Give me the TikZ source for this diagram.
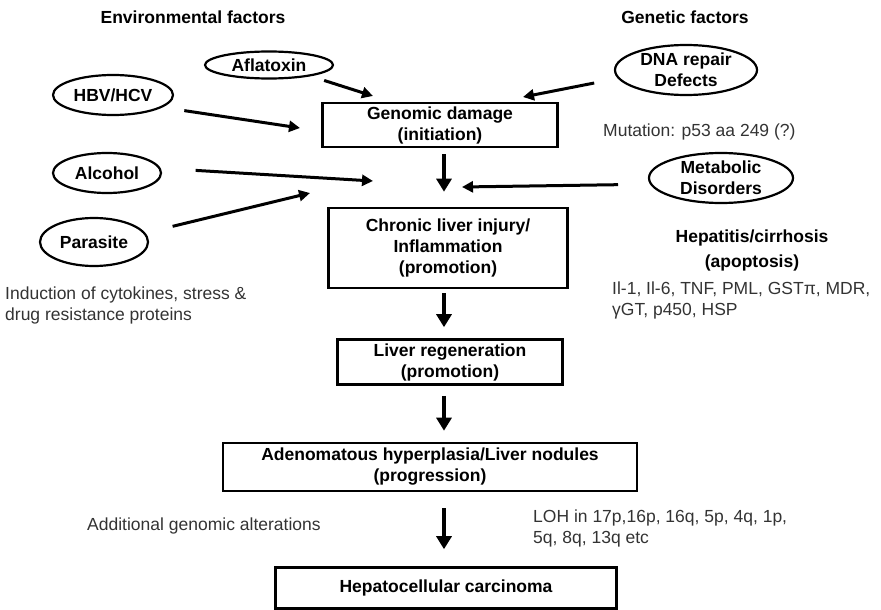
\documentclass[tikz,border=0pt]{standalone}
\usepackage{fontspec}
\setmainfont{Liberation Sans}
\usetikzlibrary{shapes.geometric}
\usetikzlibrary{arrows.meta}

\tikzset{
    stage/.style={draw, line width=2.6pt, align=center, font=\bfseries\fontsize{17.5}{21}\selectfont, inner sep=0pt},
    factor/.style={draw, ellipse, line width=2.2pt, align=center, font=\bfseries\fontsize{17.5}{21}\selectfont, inner sep=0pt},
    heading/.style={font=\bfseries\fontsize{17.5}{21}\selectfont, align=center},
    note/.style={font=\fontsize{17.5}{21}\selectfont, text=black!80, align=left, inner sep=0pt},
    sidearrow/.style={line width=3pt, -{Triangle[length=11pt, width=11pt]}},
    downarrow/.style={line width=4.5pt, -{Triangle[length=13pt, width=15pt]}}
}

\begin{document}
\begin{tikzpicture}[x=1pt, y=-1pt]
    \useasboundingbox (0,0) rectangle (881,610);

    % Headings
    \node[heading] (envtitle) at (193,17) {Environmental factors};
    \node[heading] (gentitle) at (685,17) {Genetic factors};

    % Risk factors
    \node[factor, minimum width=128pt, minimum height=27pt] (afla) at (269,65) {Aflatoxin};
    \node[factor, minimum width=120pt, minimum height=40pt] (hbv) at (113,95) {HBV/HCV};
    \node[factor, minimum width=108pt, minimum height=40pt] (alcohol) at (107,173) {Alcohol};
    \node[factor, minimum width=108pt, minimum height=48pt] (parasite) at (94,242) {Parasite};
    \node[factor, minimum width=142pt, minimum height=50pt] (dna) at (686,70) {DNA repair\\Defects};
    \node[factor, minimum width=144pt, minimum height=50pt] (meta) at (721,178) {Metabolic\\Disorders};

    % Stages
    \node[stage, minimum width=235pt, minimum height=44pt] (genomic) at (440,125) {Genomic damage\\(initiation)};
    \node[stage, minimum width=239pt, minimum height=80pt] (chronic) at (448,248) {Chronic liver injury/\\Inflammation\\(promotion)};
    \node[stage, minimum width=225pt, minimum height=45pt] (regen) at (450,362) {Liver regeneration\\(promotion)};
    \node[stage, minimum width=414pt, minimum height=48pt] (adeno) at (430,467) {Adenomatous hyperplasia/Liver nodules\\(progression)};
    \node[stage, minimum width=341pt, minimum height=41pt] (hcc) at (446,588) {Hepatocellular carcinoma};

    % Notes
    \node[note, anchor=west] (mutation) at (603,132) {Mutation: p53 aa 249 (?)};
    \node[heading, font=\bfseries\fontsize{17.5}{25}\selectfont] (hepatitis) at (752,250) {Hepatitis/cirrhosis\\(apoptosis)};
    \node[note, anchor=west] (markers) at (612,300) {Il-1, Il-6, TNF, PML, GSTπ, MDR,\\γGT, p450, HSP};
    \node[note, anchor=west] (induction) at (5,305) {Induction of cytokines, stress \&\\drug resistance proteins};
    \node[note, anchor=west] (additional) at (87,526) {Additional genomic alterations};
    \node[note, anchor=west] (loh) at (533,528) {LOH in 17p,16p, 16q, 5p, 4q, 1p,\\5q, 8q, 13q etc};

    % Arrow ends
    \coordinate (aflaend) at (373,96);
    \coordinate (hbvend) at (300,128);
    \coordinate (alcoholend) at (373,181);
    \coordinate (parasiteend) at (310,193);
    \coordinate (dnaend) at (523,97);
    \coordinate (metaend) at (462,187);
    \coordinate (spine) at (444,0);

    % Factor arrows
    \draw[sidearrow, shorten <=14pt] (afla.-15) -- (aflaend);
    \draw[sidearrow, shorten <=22pt] (hbv.-14) -- (hbvend);
    \draw[sidearrow, shorten <=35pt] (alcohol.5) -- (alcoholend);
    \draw[sidearrow, shorten <=28pt] (parasite.10) -- (parasiteend);
    \draw[sidearrow, shorten <=24pt] (dna.187) -- (dnaend);
    \draw[sidearrow, shorten <=32pt] (meta.185) -- (metaend);

    % Progression arrows
    \draw[downarrow, shorten <=6pt, shorten >=15pt] (genomic.south -| spine) -- (chronic.north -| spine);
    \draw[downarrow, shorten <=4pt, shorten >=11pt] (chronic.south -| spine) -- (regen.north -| spine);
    \draw[downarrow, shorten <=10pt, shorten >=11pt] (regen.south -| spine) -- (adeno.north -| spine);
    \draw[downarrow, shorten <=16pt, shorten >=17pt] (adeno.south -| spine) -- (hcc.north -| spine);
\end{tikzpicture}
\end{document}
